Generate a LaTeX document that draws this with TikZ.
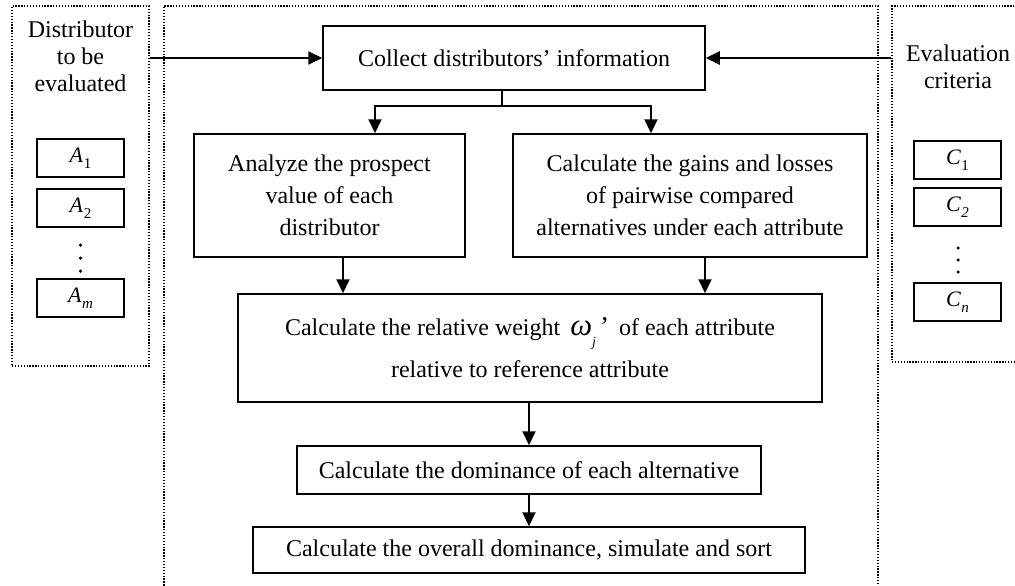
\documentclass[tikz,border=0pt]{standalone}
\usepackage{fontspec}
\setmainfont{Liberation Serif}
\usetikzlibrary{arrows.meta}
\newcommand{\ssub}[2]{\textit{#1}\kern0.5pt\raisebox{-0.28em}{\fontsize{15}{15}\selectfont #2}}
\begin{document}
\begin{tikzpicture}[x=1pt,y=-1pt,
  box/.style={draw,line width=1.5pt,align=center,inner sep=0pt,font=\fontsize{24}{32}\selectfont},
  sbox/.style={draw,line width=1.5pt,minimum width=87pt,minimum height=38pt,inner sep=0pt,font=\fontsize{22}{26}\selectfont},
  grp/.style={draw,dash pattern=on 1.3pt off 1.6pt,line width=1.3pt,inner sep=0pt},
  arr/.style={line width=2pt,-{Triangle[length=14pt,width=13pt]}},
  ln/.style={line width=2pt},
  lbl/.style={align=center,font=\fontsize{24}{27}\selectfont,inner sep=0pt},
  dot/.style={circle,fill,inner sep=0pt,minimum size=3.5pt}
]
\useasboundingbox (0,0) rectangle (1015,586);
% groups
\node[grp,minimum width=137pt,minimum height=360pt] (leftgrp) at (80.5,186) {};
\node[grp,minimum width=150pt,minimum height=356pt] (rightgrp) at (967,184) {};
\draw[grp] (164,600) -- (164,6) -- (878,6) -- (878,600);
% group labels
\node[lbl] (lt) at (80.5,56) {Distributor\\to be\\evaluated};
\node[lbl] (rt) at (958,67) {Evaluation\\criteria};
% A boxes
\node[sbox] (a1) at (80.5,158) {\ssub{A}{1}};
\node[sbox] (a2) at (80.5,208) {\ssub{A}{2}};
\node[dot] (ad1) at (80.5,245) {};
\node[dot] (ad2) at (80.5,258) {};
\node[dot] (ad3) at (80.5,271) {};
\node[sbox] (am) at (80.5,298) {\ssub{A}{\textit{m}}};
% C boxes
\node[sbox] (c1) at (957.5,160) {\ssub{C}{1}};
\node[sbox] (c2) at (957.5,207) {\ssub{C}{\textit{2}}};
\node[dot] (cd1) at (958,248) {};
\node[dot] (cd2) at (958,260) {};
\node[dot] (cd3) at (958,272) {};
\node[sbox] (cn) at (957.5,302) {\ssub{C}{\textit{n}}};
% main boxes
\node[box,minimum width=382pt,minimum height=64pt] (collect) at (514,58) {Collect distributors’ information};
\node[box,minimum width=271pt,minimum height=123pt] (analyze) at (329.5,195.5) {Analyze the prospect\\value of each\\distributor};
\node[box,minimum width=354pt,minimum height=123pt] (gains) at (690,195.5) {Calculate the gains and losses\\of pairwise compared\\alternatives under each attribute};
\node[box,minimum width=584pt,minimum height=108pt,font=\fontsize{24}{42}\selectfont] (weight) at (530,348) {Calculate the relative weight \,{\fontsize{31}{31}\selectfont\textit{ω}}\raisebox{-0.45em}{\fontsize{14}{14}\selectfont\textit{j}}\,{\fontsize{27}{27}\selectfont\char"27}\, of each attribute\\relative to reference attribute};
\node[box,minimum width=464pt,minimum height=48pt] (dom) at (529,470) {Calculate the dominance of each alternative};
\node[box,minimum width=552pt,minimum height=46pt] (final) at (529,550) {Calculate the overall dominance, simulate and sort};
% connectors
\draw[arr] (leftgrp.east |- collect.west) -- (collect.west);
\draw[arr] (rightgrp.west |- collect.east) -- (collect.east);
\coordinate (split) at (502,106);
\draw[ln] (collect.south -| split) -- (split);
\draw[arr] (split) -| ([xshift=45.5pt]analyze.north);
\draw[arr] (split) -| ([xshift=-39pt]gains.north);
\draw[arr] ([xshift=13.5pt]analyze.south) -- ([xshift=13.5pt]analyze.south |- weight.north);
\draw[arr] ([xshift=15pt]gains.south) -- ([xshift=15pt]gains.south |- weight.north);
\draw[arr] ([xshift=-1pt]weight.south) -- (dom.north);
\draw[arr] (dom.south) -- (final.north);
\end{tikzpicture}
\end{document}
